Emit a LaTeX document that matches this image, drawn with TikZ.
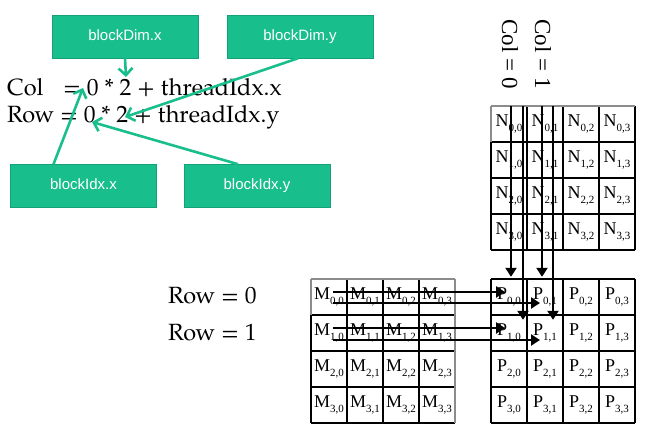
\documentclass[tikz,border=0pt]{standalone}
\usepackage{fontspec}
\setmainfont{Liberation Serif}
\newfontfamily\boxfont{Liberation Sans}
\newfontfamily\pal{TeX Gyre Pagella}
\usetikzlibrary{arrows.meta}
\definecolor{boxgreen}{RGB}{24,190,140}
\newcommand{\cellt}[3]{#1\raisebox{-0.25em}{\fontsize{11}{11}\selectfont #2,#3}}
\begin{document}
\begin{tikzpicture}[x=1pt,y=-1pt,
  gbox/.style={fill=boxgreen, draw=boxgreen!85!black, line width=0.6pt, minimum width=146pt, minimum height=43pt, inner sep=0pt, text=white, font=\boxfont\fontsize{15}{15}\selectfont},
  garrow/.style={draw=boxgreen, line width=2.6pt, -{Straight Barb[length=7pt,width=14pt]}},
  eq/.style={inner sep=0pt, anchor=base west, font=\pal\fontsize{23.5}{23.5}\selectfont},
  rot/.style={inner sep=0pt, rotate=-90, font=\fontsize{23}{23}\selectfont},
  cell/.style={inner sep=0pt, minimum width=36pt, minimum height=36pt, font=\fontsize{18}{18}\selectfont},
  gl/.style={draw=black, line width=2pt},
  gly/.style={draw=black!45, line width=1.8pt},
  pl/.style={draw=black, line width=2.8pt},
  barrow/.style={draw=black, line width=2.6pt, -{Triangle[length=9pt,width=11pt]}}
]
\useasboundingbox (0,0) rectangle (653,437);

% green boxes
\node[gbox] (bdx) at (125,36.5) {blockDim.x\vphantom{g}};
\node[gbox] (bdy) at (300,36.5) {blockDim.y};
\node[gbox] (bix) at (83.5,186) {blockIdx.x\vphantom{g}};
\node[gbox] (biy) at (257,186) {blockIdx.y};

% equations
\node[eq] (colL) at (7,95) {Col};
\node[eq] (colR) at (63,95) {= 0 * 2 + threadIdx.x};
\node[eq] (rowE) at (7,122) {Row = 0 * 2 + threadIdx.y};

\coordinate (t1) at (126,77);
\coordinate (t2) at (125,117);
\coordinate (t3) at (83,88);
\coordinate (t4) at (92,122);
\draw[garrow] (bdx.south) -- (t1);
\draw[garrow] ([xshift=-2pt]bdy.south) -- (t2);
\draw[garrow] ([xshift=-30pt]bix.north) -- (t3);
\draw[garrow] ([xshift=-19pt]biy.north) -- (t4);

% row / col labels
\node[eq] (r0) at (168,303) {Row = 0};
\node[eq] (r1) at (168,340) {Row = 1};
\node[rot] (c0) at (510,54) {Col = 0};
\node[rot] (c1) at (543,54) {Col = 1};

% grids
\foreach \i in {0,...,4} {
  \draw[gl] ({491+36*\i},106) -- ({491+36*\i},250);
  \draw[gl] (491,{106+36*\i}) -- (635,{106+36*\i});
  \draw[gl] ({311+36*\i},279) -- ({311+36*\i},423);
  \draw[gl] (311,{279+36*\i}) -- (455,{279+36*\i});
  \draw[pl] ({491+36*\i},279) -- ({491+36*\i},423);
  \draw[pl] (491,{279+36*\i}) -- (635,{279+36*\i});
}
\draw[gly] (491,106) -- (635,106);
\draw[gly] (491,106) -- (491,142);
\draw[gly] (311,279) -- (455,279);
\draw[gly] (311,279) -- (311,315);
\draw[gly] (455,279) -- (455,423);

\foreach \r in {0,...,3} {
  \foreach \c in {0,...,3} {
    \node[cell] (N\r\c) at ({509+36*\c},{124+36*\r}) {\cellt{N}{\r}{\c}};
    \node[cell] (M\r\c) at ({329+36*\c},{297+36*\r}) {\cellt{M}{\r}{\c}};
    \node[cell] (P\r\c) at ({509+36*\c},{297+36*\r}) {\cellt{P}{\r}{\c}};
  }
}

% black arrows: columns
\draw[barrow] ([xshift=2pt]N00.north) -- ([xshift=2pt,yshift=2pt]P00.north);
\draw[barrow] ([xshift=14pt]N00.north) -- ([xshift=14pt,yshift=-5pt]P10.north);
\draw[barrow] ([xshift=-3pt]N01.north) -- ([xshift=-3pt,yshift=2pt]P01.north);
\draw[barrow] ([xshift=8pt]N01.north) -- ([xshift=8pt,yshift=-5pt]P11.north);
% black arrows: rows
\draw[barrow] ([xshift=4pt,yshift=5pt]M00.center) -- ([xshift=-4pt,yshift=5pt]P00.center);
\draw[barrow] ([xshift=4pt,yshift=-6pt]M00.center) -- ([xshift=-5pt,yshift=-6pt]P01.center);
\draw[barrow] ([xshift=4pt,yshift=5pt]M10.center) -- ([xshift=-4pt,yshift=5pt]P10.center);
\draw[barrow] ([xshift=4pt,yshift=-7pt]M10.center) -- ([xshift=-5pt,yshift=-7pt]P11.center);
\end{tikzpicture}
\end{document}
